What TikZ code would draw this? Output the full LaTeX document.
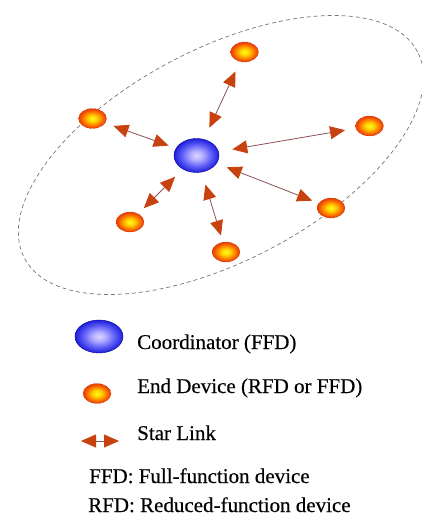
\documentclass[tikz,border=0pt]{standalone}
\usepackage{fontspec}
\setmainfont{Liberation Serif}[FakeBold=0.4]
\usetikzlibrary{shapes.geometric,arrows.meta}

% node fills
\pgfdeclareradialshading{coordshade}{\pgfpoint{0bp}{0bp}}{%
  rgb(0bp)=(0.86,0.84,1);
  rgb(7bp)=(0.70,0.68,1);
  rgb(16bp)=(0.38,0.38,0.97);
  rgb(25bp)=(0.12,0.12,0.86);
  rgb(50bp)=(0.12,0.12,0.86)}
\pgfdeclareradialshading{devshade}{\pgfpoint{0bp}{0bp}}{%
  rgb(0bp)=(1,0.97,0.15);
  rgb(7bp)=(1,0.86,0.0);
  rgb(15bp)=(1,0.55,0.0);
  rgb(23bp)=(0.93,0.27,0.02);
  rgb(50bp)=(0.88,0.22,0.0)}

\definecolor{headcol}{RGB}{200,66,16}
\definecolor{linkcol}{RGB}{140,80,85}
\definecolor{rimcol}{RGB}{128,112,112}

\tikzset{
  coordnode/.style={ellipse, minimum width=45pt, minimum height=34pt,
    inner sep=0pt, outer sep=0pt, shading=coordshade, shade,
    draw=blue!60!black, line width=0.4pt},
  devnode/.style={ellipse, minimum width=28pt, minimum height=20pt,
    inner sep=0pt, outer sep=0pt, shading=devshade, shade,
    draw=red!60!black, line width=0.4pt, densely dotted},
  starlink/.style={draw=linkcol, line width=0.8pt,
    {Triangle[length=15pt,width=13pt,color=headcol]}-{Triangle[length=15pt,width=13pt,color=headcol]}},
  legendtext/.style={anchor=base west, inner sep=0pt,
    font=\fontsize{21pt}{24pt}\selectfont},
  rim/.style={draw=rimcol, line width=0.7pt, dash pattern=on 4pt off 3pt}
}

\begin{document}
\begin{tikzpicture}[x=1pt, y=-1pt]
  \useasboundingbox (0,0) rectangle (422,522);

  % dashed boundary of the star network
  \draw[rim, rotate around={27.7:(221,155)}] (221,155) ellipse [x radius=222pt, y radius=106pt];

  % coordinator and end devices
  \node[coordnode] (c) at (196.5,155.5) {};
  \node[devnode] (t)  at (244.5,52) {};
  \node[devnode] (l)  at (92.5,118.5) {};
  \node[devnode] (r)  at (369.5,126) {};
  \node[devnode] (lr) at (331,208) {};
  \node[devnode] (ll) at (130,222) {};
  \node[devnode] (b)  at (226,252) {};

  % star links
  \draw[starlink, shorten <=13pt, shorten >=11pt] (c) -- (t);
  \draw[starlink, shorten <=8pt,  shorten >=9pt]  (c) -- (l);
  \draw[starlink, shorten <=14pt, shorten >=11pt] (c) -- (r);
  \draw[starlink, shorten <=11pt, shorten >=7pt]  (c) -- (lr);
  \draw[starlink, shorten <=11pt, shorten >=8pt]  (c) -- (ll);
  \draw[starlink, shorten <=13pt, shorten >=7pt]  (c) -- (b);

  % legend
  \node[coordnode, minimum width=48pt, minimum height=33pt] (kc) at (99,336.5) {};
  \node[devnode] (kd) at (97,393.5) {};
  \coordinate (ka) at (81,441);
  \coordinate (kb) at (119,441);
  \draw[starlink] (ka) -- (kb);

  \node[legendtext] (tc) at (137,349) {Coordinator (FFD)};
  \node[legendtext] (td) at (137,393) {End Device (RFD or FFD)};
  \node[legendtext] (ts) at (137,440) {Star Link};
  \node[legendtext] (tf) at (89,483)  {FFD: Full-function device};
  \node[legendtext] (tr) at (88,512)  {RFD: Reduced-function device};
\end{tikzpicture}
\end{document}
